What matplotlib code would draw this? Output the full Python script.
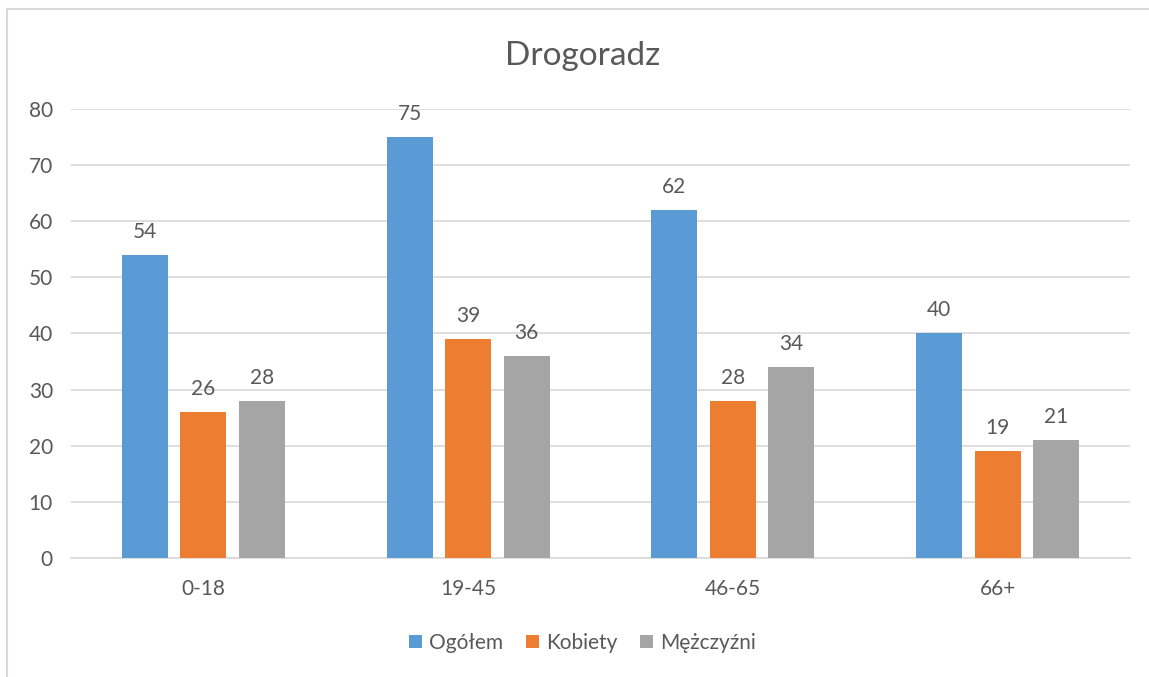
import matplotlib.pyplot as plt
import numpy as np

plt.rcParams['font.family'] = ['Lato', 'DejaVu Sans']

groups = ['0-18', '19-45', '46-65', '66+']
series_names = ['Ogółem', 'Kobiety', 'Mężczyźni']
ogolem = [54, 75, 62, 40]
kobiety = [26, 39, 28, 19]
mezczyzni = [28, 36, 34, 21]
colors = ['#5B9BD5', '#ED7D31', '#A5A5A5']
txt = '#595959'

fig = plt.figure(figsize=(11.49, 6.77), dpi=100)
ax = fig.add_axes([0.0618, 0.1758, 0.9217, 0.6632])

x = np.arange(len(groups))
w = 0.174
step = 0.221
for i, (vals, name) in enumerate(zip([ogolem, kobiety, mezczyzni], series_names)):
    pos = x + (i - 1) * step
    bars = ax.bar(pos, vals, w, color=colors[i], label=name, zorder=3)
    for b, v in zip(bars, vals):
        ax.text(b.get_x() + b.get_width() / 2, v + 4.1, str(v), ha='center', va='center',
                fontsize=15, color=txt)

ax.set_xlim(-0.5, len(groups) - 0.5)
ax.set_ylim(0, 80)
ax.set_yticks(range(0, 81, 10))
ax.set_xticks(x)
ax.set_xticklabels(groups)
ax.grid(axis='y', color='#D9D9D9', linewidth=1.2, zorder=0)
for s in ['top', 'right', 'left']:
    ax.spines[s].set_visible(False)
ax.spines['bottom'].set_color('#D9D9D9')
ax.spines['bottom'].set_linewidth(1.2)
ax.tick_params(axis='both', length=0, labelsize=15, labelcolor=txt)
ax.tick_params(axis='y', pad=13)
ax.tick_params(axis='x', pad=15)

fig.text(0.507, 0.918, 'Drogoradz', ha='center', va='center', fontsize=24, color=txt)

fig.legend(loc='center', bbox_to_anchor=(0.507, 0.05), ncol=3, frameon=False,
           fontsize=15, labelcolor=txt, handlelength=0.6, handleheight=0.6,
           handletextpad=0.35, columnspacing=1.1)

# chart border (top and left visible)
fig.add_artist(plt.Line2D([0.0061, 0.0061], [0, 0.986], transform=fig.transFigure, color='#D9D9D9', linewidth=1.5))
fig.add_artist(plt.Line2D([0.0061, 1.0], [0.986, 0.986], transform=fig.transFigure, color='#D9D9D9', linewidth=1.5))

fig.savefig('out.png', dpi=100)
